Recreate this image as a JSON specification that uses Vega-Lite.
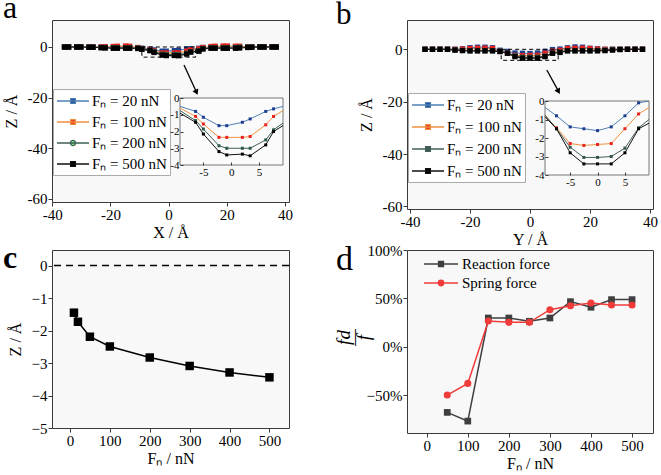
{
"$schema": "https://vega.github.io/schema/vega-lite/v6.json",
"autosize": "none",
"padding": {"left": 52, "top": 20, "right": 609, "bottom": 455},
"background": "white",
"datasets": {
"a": [
{"s":"Fₙ = 20 nN","x":-35.8,"z":0},{"s":"Fₙ = 20 nN","x":-34.4,"z":0},{"s":"Fₙ = 20 nN","x":-31.6,"z":0},{"s":"Fₙ = 20 nN","x":-30.2,"z":0},{"s":"Fₙ = 20 nN","x":-27.4,"z":0},{"s":"Fₙ = 20 nN","x":-26.0,"z":0},{"s":"Fₙ = 20 nN","x":-23.2,"z":0},{"s":"Fₙ = 20 nN","x":-21.8,"z":0},{"s":"Fₙ = 20 nN","x":-19.0,"z":-0.1},{"s":"Fₙ = 20 nN","x":-17.6,"z":-0.1},{"s":"Fₙ = 20 nN","x":-14.8,"z":-0.1},{"s":"Fₙ = 20 nN","x":-13.4,"z":-0.2},{"s":"Fₙ = 20 nN","x":-10.6,"z":-0.3},{"s":"Fₙ = 20 nN","x":-9.2,"z":-0.5},{"s":"Fₙ = 20 nN","x":-6.4,"z":-0.8},{"s":"Fₙ = 20 nN","x":-5.0,"z":-1.15},{"s":"Fₙ = 20 nN","x":-2.2,"z":-1.65},{"s":"Fₙ = 20 nN","x":-0.8,"z":-1.65},{"s":"Fₙ = 20 nN","x":2.0,"z":-1.45},{"s":"Fₙ = 20 nN","x":3.4,"z":-1.25},{"s":"Fₙ = 20 nN","x":6.2,"z":-0.8},{"s":"Fₙ = 20 nN","x":7.6,"z":-0.65},{"s":"Fₙ = 20 nN","x":10.4,"z":-0.5},{"s":"Fₙ = 20 nN","x":11.8,"z":-0.2},{"s":"Fₙ = 20 nN","x":14.6,"z":-0.1},{"s":"Fₙ = 20 nN","x":16.0,"z":0},{"s":"Fₙ = 20 nN","x":18.8,"z":0},{"s":"Fₙ = 20 nN","x":20.2,"z":0},{"s":"Fₙ = 20 nN","x":23.0,"z":0},{"s":"Fₙ = 20 nN","x":24.4,"z":0},{"s":"Fₙ = 20 nN","x":27.2,"z":0},{"s":"Fₙ = 20 nN","x":28.6,"z":0},{"s":"Fₙ = 20 nN","x":31.4,"z":0},{"s":"Fₙ = 20 nN","x":32.8,"z":0},{"s":"Fₙ = 20 nN","x":35.6,"z":0},{"s":"Fₙ = 20 nN","x":37.0,"z":0},
{"s":"Fₙ = 100 nN","x":-35.8,"z":0},{"s":"Fₙ = 100 nN","x":-34.4,"z":0},{"s":"Fₙ = 100 nN","x":-31.6,"z":0},{"s":"Fₙ = 100 nN","x":-30.2,"z":0},{"s":"Fₙ = 100 nN","x":-27.4,"z":0},{"s":"Fₙ = 100 nN","x":-26.0,"z":0},{"s":"Fₙ = 100 nN","x":-23.2,"z":0},{"s":"Fₙ = 100 nN","x":-21.8,"z":0.1},{"s":"Fₙ = 100 nN","x":-19.0,"z":0.2},{"s":"Fₙ = 100 nN","x":-17.6,"z":0.3},{"s":"Fₙ = 100 nN","x":-14.8,"z":0.4},{"s":"Fₙ = 100 nN","x":-13.4,"z":0.3},{"s":"Fₙ = 100 nN","x":-10.6,"z":-0.2},{"s":"Fₙ = 100 nN","x":-9.2,"z":-0.6},{"s":"Fₙ = 100 nN","x":-6.4,"z":-1.1},{"s":"Fₙ = 100 nN","x":-5.0,"z":-1.55},{"s":"Fₙ = 100 nN","x":-2.2,"z":-2.35},{"s":"Fₙ = 100 nN","x":-0.8,"z":-2.35},{"s":"Fₙ = 100 nN","x":2.0,"z":-2.35},{"s":"Fₙ = 100 nN","x":3.4,"z":-2.3},{"s":"Fₙ = 100 nN","x":6.2,"z":-1.6},{"s":"Fₙ = 100 nN","x":7.6,"z":-1.1},{"s":"Fₙ = 100 nN","x":10.4,"z":-0.75},{"s":"Fₙ = 100 nN","x":11.8,"z":-0.2},{"s":"Fₙ = 100 nN","x":14.6,"z":0.2},{"s":"Fₙ = 100 nN","x":16.0,"z":0.3},{"s":"Fₙ = 100 nN","x":18.8,"z":0.4},{"s":"Fₙ = 100 nN","x":20.2,"z":0.4},{"s":"Fₙ = 100 nN","x":23.0,"z":0.3},{"s":"Fₙ = 100 nN","x":24.4,"z":0.3},{"s":"Fₙ = 100 nN","x":27.2,"z":0.1},{"s":"Fₙ = 100 nN","x":28.6,"z":0},{"s":"Fₙ = 100 nN","x":31.4,"z":0},{"s":"Fₙ = 100 nN","x":32.8,"z":0},{"s":"Fₙ = 100 nN","x":35.6,"z":0},{"s":"Fₙ = 100 nN","x":37.0,"z":0},
{"s":"Fₙ = 200 nN","x":-35.8,"z":0},{"s":"Fₙ = 200 nN","x":-34.4,"z":0},{"s":"Fₙ = 200 nN","x":-31.6,"z":0},{"s":"Fₙ = 200 nN","x":-30.2,"z":0},{"s":"Fₙ = 200 nN","x":-27.4,"z":-0.1},{"s":"Fₙ = 200 nN","x":-26.0,"z":-0.1},{"s":"Fₙ = 200 nN","x":-23.2,"z":-0.2},{"s":"Fₙ = 200 nN","x":-21.8,"z":-0.2},{"s":"Fₙ = 200 nN","x":-19.0,"z":-0.3},{"s":"Fₙ = 200 nN","x":-17.6,"z":-0.3},{"s":"Fₙ = 200 nN","x":-14.8,"z":-0.3},{"s":"Fₙ = 200 nN","x":-13.4,"z":-0.3},{"s":"Fₙ = 200 nN","x":-10.6,"z":-0.4},{"s":"Fₙ = 200 nN","x":-9.2,"z":-0.75},{"s":"Fₙ = 200 nN","x":-6.4,"z":-1.35},{"s":"Fₙ = 200 nN","x":-5.0,"z":-1.85},{"s":"Fₙ = 200 nN","x":-2.2,"z":-2.85},{"s":"Fₙ = 200 nN","x":-0.8,"z":-3.0},{"s":"Fₙ = 200 nN","x":2.0,"z":-3.0},{"s":"Fₙ = 200 nN","x":3.4,"z":-3.0},{"s":"Fₙ = 200 nN","x":6.2,"z":-2.5},{"s":"Fₙ = 200 nN","x":7.6,"z":-1.9},{"s":"Fₙ = 200 nN","x":10.4,"z":-1.5},{"s":"Fₙ = 200 nN","x":11.8,"z":-0.6},{"s":"Fₙ = 200 nN","x":14.6,"z":-0.3},{"s":"Fₙ = 200 nN","x":16.0,"z":-0.3},{"s":"Fₙ = 200 nN","x":18.8,"z":-0.3},{"s":"Fₙ = 200 nN","x":20.2,"z":-0.3},{"s":"Fₙ = 200 nN","x":23.0,"z":-0.2},{"s":"Fₙ = 200 nN","x":24.4,"z":-0.1},{"s":"Fₙ = 200 nN","x":27.2,"z":0},{"s":"Fₙ = 200 nN","x":28.6,"z":0},{"s":"Fₙ = 200 nN","x":31.4,"z":0},{"s":"Fₙ = 200 nN","x":32.8,"z":0},{"s":"Fₙ = 200 nN","x":35.6,"z":0},{"s":"Fₙ = 200 nN","x":37.0,"z":0},
{"s":"Fₙ = 500 nN","x":-35.8,"z":0},{"s":"Fₙ = 500 nN","x":-34.4,"z":0},{"s":"Fₙ = 500 nN","x":-31.6,"z":0},{"s":"Fₙ = 500 nN","x":-30.2,"z":0},{"s":"Fₙ = 500 nN","x":-27.4,"z":-0.1},{"s":"Fₙ = 500 nN","x":-26.0,"z":-0.1},{"s":"Fₙ = 500 nN","x":-23.2,"z":-0.3},{"s":"Fₙ = 500 nN","x":-21.8,"z":-0.4},{"s":"Fₙ = 500 nN","x":-19.0,"z":-0.5},{"s":"Fₙ = 500 nN","x":-17.6,"z":-0.5},{"s":"Fₙ = 500 nN","x":-14.8,"z":-0.5},{"s":"Fₙ = 500 nN","x":-13.4,"z":-0.5},{"s":"Fₙ = 500 nN","x":-10.6,"z":-0.6},{"s":"Fₙ = 500 nN","x":-9.2,"z":-0.9},{"s":"Fₙ = 500 nN","x":-6.4,"z":-1.45},{"s":"Fₙ = 500 nN","x":-5.0,"z":-2.15},{"s":"Fₙ = 500 nN","x":-2.2,"z":-3.2},{"s":"Fₙ = 500 nN","x":-0.8,"z":-3.4},{"s":"Fₙ = 500 nN","x":2.0,"z":-3.35},{"s":"Fₙ = 500 nN","x":3.4,"z":-3.45},{"s":"Fₙ = 500 nN","x":6.2,"z":-2.8},{"s":"Fₙ = 500 nN","x":7.6,"z":-2.0},{"s":"Fₙ = 500 nN","x":10.4,"z":-1.65},{"s":"Fₙ = 500 nN","x":11.8,"z":-0.8},{"s":"Fₙ = 500 nN","x":14.6,"z":-0.5},{"s":"Fₙ = 500 nN","x":16.0,"z":-0.5},{"s":"Fₙ = 500 nN","x":18.8,"z":-0.5},{"s":"Fₙ = 500 nN","x":20.2,"z":-0.5},{"s":"Fₙ = 500 nN","x":23.0,"z":-0.5},{"s":"Fₙ = 500 nN","x":24.4,"z":-0.4},{"s":"Fₙ = 500 nN","x":27.2,"z":-0.2},{"s":"Fₙ = 500 nN","x":28.6,"z":-0.1},{"s":"Fₙ = 500 nN","x":31.4,"z":0},{"s":"Fₙ = 500 nN","x":32.8,"z":0},{"s":"Fₙ = 500 nN","x":35.6,"z":0},{"s":"Fₙ = 500 nN","x":37.0,"z":0}
],
"b": [
{"s":"Fₙ = 20 nN","x":-35,"z":0},{"s":"Fₙ = 20 nN","x":-32.5,"z":0},{"s":"Fₙ = 20 nN","x":-30,"z":0},{"s":"Fₙ = 20 nN","x":-27.5,"z":0},{"s":"Fₙ = 20 nN","x":-25,"z":0},{"s":"Fₙ = 20 nN","x":-22.5,"z":0.2},{"s":"Fₙ = 20 nN","x":-20,"z":0.6},{"s":"Fₙ = 20 nN","x":-17.5,"z":0.8},{"s":"Fₙ = 20 nN","x":-15,"z":0.8},{"s":"Fₙ = 20 nN","x":-12.5,"z":0.6},{"s":"Fₙ = 20 nN","x":-10,"z":-0.35},{"s":"Fₙ = 20 nN","x":-7.5,"z":-0.8},{"s":"Fₙ = 20 nN","x":-5,"z":-1.4},{"s":"Fₙ = 20 nN","x":-2.5,"z":-1.5},{"s":"Fₙ = 20 nN","x":0,"z":-1.6},{"s":"Fₙ = 20 nN","x":2.5,"z":-1.4},{"s":"Fₙ = 20 nN","x":5,"z":-0.8},{"s":"Fₙ = 20 nN","x":7.5,"z":-0.1},{"s":"Fₙ = 20 nN","x":10,"z":0.1},{"s":"Fₙ = 20 nN","x":12.5,"z":0.6},{"s":"Fₙ = 20 nN","x":15,"z":0.9},{"s":"Fₙ = 20 nN","x":17.5,"z":0.8},{"s":"Fₙ = 20 nN","x":20,"z":0.4},{"s":"Fₙ = 20 nN","x":22.5,"z":0.2},{"s":"Fₙ = 20 nN","x":25,"z":0},{"s":"Fₙ = 20 nN","x":27.5,"z":0},{"s":"Fₙ = 20 nN","x":30,"z":0},{"s":"Fₙ = 20 nN","x":32.5,"z":0},{"s":"Fₙ = 20 nN","x":35,"z":0},{"s":"Fₙ = 20 nN","x":37.5,"z":0},
{"s":"Fₙ = 100 nN","x":-35,"z":0},{"s":"Fₙ = 100 nN","x":-32.5,"z":0},{"s":"Fₙ = 100 nN","x":-30,"z":0},{"s":"Fₙ = 100 nN","x":-27.5,"z":0},{"s":"Fₙ = 100 nN","x":-25,"z":0},{"s":"Fₙ = 100 nN","x":-22.5,"z":0.1},{"s":"Fₙ = 100 nN","x":-20,"z":0.3},{"s":"Fₙ = 100 nN","x":-17.5,"z":0.4},{"s":"Fₙ = 100 nN","x":-15,"z":0.4},{"s":"Fₙ = 100 nN","x":-12.5,"z":0.3},{"s":"Fₙ = 100 nN","x":-10,"z":-0.8},{"s":"Fₙ = 100 nN","x":-7.5,"z":-1.45},{"s":"Fₙ = 100 nN","x":-5,"z":-2.3},{"s":"Fₙ = 100 nN","x":-2.5,"z":-2.4},{"s":"Fₙ = 100 nN","x":0,"z":-2.35},{"s":"Fₙ = 100 nN","x":2.5,"z":-2.3},{"s":"Fₙ = 100 nN","x":5,"z":-1.5},{"s":"Fₙ = 100 nN","x":7.5,"z":-0.7},{"s":"Fₙ = 100 nN","x":10,"z":-0.35},{"s":"Fₙ = 100 nN","x":12.5,"z":0.3},{"s":"Fₙ = 100 nN","x":15,"z":0.4},{"s":"Fₙ = 100 nN","x":17.5,"z":0.4},{"s":"Fₙ = 100 nN","x":20,"z":0.3},{"s":"Fₙ = 100 nN","x":22.5,"z":0.1},{"s":"Fₙ = 100 nN","x":25,"z":0},{"s":"Fₙ = 100 nN","x":27.5,"z":0},{"s":"Fₙ = 100 nN","x":30,"z":0},{"s":"Fₙ = 100 nN","x":32.5,"z":0},{"s":"Fₙ = 100 nN","x":35,"z":0},{"s":"Fₙ = 100 nN","x":37.5,"z":0},
{"s":"Fₙ = 200 nN","x":-35,"z":0},{"s":"Fₙ = 200 nN","x":-32.5,"z":0},{"s":"Fₙ = 200 nN","x":-30,"z":0},{"s":"Fₙ = 200 nN","x":-27.5,"z":0},{"s":"Fₙ = 200 nN","x":-25,"z":-0.2},{"s":"Fₙ = 200 nN","x":-22.5,"z":-0.4},{"s":"Fₙ = 200 nN","x":-20,"z":-0.5},{"s":"Fₙ = 200 nN","x":-17.5,"z":-0.5},{"s":"Fₙ = 200 nN","x":-15,"z":-0.5},{"s":"Fₙ = 200 nN","x":-12.5,"z":-0.5},{"s":"Fₙ = 200 nN","x":-10,"z":-0.75},{"s":"Fₙ = 200 nN","x":-7.5,"z":-1.5},{"s":"Fₙ = 200 nN","x":-5,"z":-2.5},{"s":"Fₙ = 200 nN","x":-2.5,"z":-3.05},{"s":"Fₙ = 200 nN","x":0,"z":-3.05},{"s":"Fₙ = 200 nN","x":2.5,"z":-3.0},{"s":"Fₙ = 200 nN","x":5,"z":-2.55},{"s":"Fₙ = 200 nN","x":7.5,"z":-1.45},{"s":"Fₙ = 200 nN","x":10,"z":-1.0},{"s":"Fₙ = 200 nN","x":12.5,"z":-0.5},{"s":"Fₙ = 200 nN","x":15,"z":-0.5},{"s":"Fₙ = 200 nN","x":17.5,"z":-0.5},{"s":"Fₙ = 200 nN","x":20,"z":-0.5},{"s":"Fₙ = 200 nN","x":22.5,"z":-0.4},{"s":"Fₙ = 200 nN","x":25,"z":-0.3},{"s":"Fₙ = 200 nN","x":27.5,"z":-0.1},{"s":"Fₙ = 200 nN","x":30,"z":0},{"s":"Fₙ = 200 nN","x":32.5,"z":0},{"s":"Fₙ = 200 nN","x":35,"z":0},{"s":"Fₙ = 200 nN","x":37.5,"z":0},
{"s":"Fₙ = 500 nN","x":-35,"z":0},{"s":"Fₙ = 500 nN","x":-32.5,"z":0},{"s":"Fₙ = 500 nN","x":-30,"z":0},{"s":"Fₙ = 500 nN","x":-27.5,"z":0},{"s":"Fₙ = 500 nN","x":-25,"z":-0.3},{"s":"Fₙ = 500 nN","x":-22.5,"z":-0.5},{"s":"Fₙ = 500 nN","x":-20,"z":-0.6},{"s":"Fₙ = 500 nN","x":-17.5,"z":-0.6},{"s":"Fₙ = 500 nN","x":-15,"z":-0.6},{"s":"Fₙ = 500 nN","x":-12.5,"z":-0.6},{"s":"Fₙ = 500 nN","x":-10,"z":-0.85},{"s":"Fₙ = 500 nN","x":-7.5,"z":-1.5},{"s":"Fₙ = 500 nN","x":-5,"z":-2.8},{"s":"Fₙ = 500 nN","x":-2.5,"z":-3.4},{"s":"Fₙ = 500 nN","x":0,"z":-3.4},{"s":"Fₙ = 500 nN","x":2.5,"z":-3.4},{"s":"Fₙ = 500 nN","x":5,"z":-2.8},{"s":"Fₙ = 500 nN","x":7.5,"z":-1.5},{"s":"Fₙ = 500 nN","x":10,"z":-1.2},{"s":"Fₙ = 500 nN","x":12.5,"z":-0.6},{"s":"Fₙ = 500 nN","x":15,"z":-0.6},{"s":"Fₙ = 500 nN","x":17.5,"z":-0.6},{"s":"Fₙ = 500 nN","x":20,"z":-0.6},{"s":"Fₙ = 500 nN","x":22.5,"z":-0.6},{"s":"Fₙ = 500 nN","x":25,"z":-0.5},{"s":"Fₙ = 500 nN","x":27.5,"z":-0.3},{"s":"Fₙ = 500 nN","x":30,"z":-0.1},{"s":"Fₙ = 500 nN","x":32.5,"z":0},{"s":"Fₙ = 500 nN","x":35,"z":0},{"s":"Fₙ = 500 nN","x":37.5,"z":0}
],
"c": [
{"f":10,"z":-1.45},{"f":20,"z":-1.73},{"f":50,"z":-2.19},{"f":100,"z":-2.49},{"f":200,"z":-2.83},{"f":300,"z":-3.09},{"f":400,"z":-3.29},{"f":500,"z":-3.44}
],
"d": [
{"k":"Reaction force","f":50,"r":-0.679},{"k":"Reaction force","f":100,"r":-0.769},{"k":"Reaction force","f":150,"r":0.297},{"k":"Reaction force","f":200,"r":0.297},{"k":"Reaction force","f":250,"r":0.263},{"k":"Reaction force","f":300,"r":0.297},{"k":"Reaction force","f":350,"r":0.466},{"k":"Reaction force","f":400,"r":0.408},{"k":"Reaction force","f":450,"r":0.487},{"k":"Reaction force","f":500,"r":0.487},
{"k":"Spring force","f":50,"r":-0.5},{"k":"Spring force","f":100,"r":-0.379},{"k":"Spring force","f":150,"r":0.266},{"k":"Spring force","f":200,"r":0.252},{"k":"Spring force","f":250,"r":0.252},{"k":"Spring force","f":300,"r":0.383},{"k":"Spring force","f":350,"r":0.424},{"k":"Spring force","f":400,"r":0.452},{"k":"Spring force","f":450,"r":0.432},{"k":"Spring force","f":500,"r":0.432}
]
},
"config": {
"font": "Liberation Serif",
"view": {"stroke": "#3a3a3a", "strokeWidth": 1, "fill": "#f8f8f8"},
"axis": {"domain": false, "grid": false, "labelFont": "Liberation Serif", "labelFontSize": 15, "labelColor": "black", "titleFont": "Liberation Serif", "titleFontSize": 16, "titleFontWeight": "normal", "titleColor": "black", "tickColor": "#3a3a3a", "tickSize": 4, "tickWidth": 1, "labelPadding": 1, "labelFlush": false, "labelOverlap": false},
"legend": {"labelFont": "Liberation Serif", "labelFontSize": 15, "labelColor": "black"},
"title": {"font": "Liberation Serif", "fontSize": 32, "fontWeight": "normal", "anchor": "start", "frame": "group", "baseline": "alphabetic", "color": "black"}
},
"bounds": "flush",
"columns": 2,
"spacing": {"row": 41, "column": 118},
"resolve": {"scale": {"fill": "independent", "stroke": "independent", "color": "independent", "shape": "independent"}, "legend": {"fill": "independent", "stroke": "independent", "color": "independent", "shape": "independent"}},
"concat": [
{
"width": 237, "height": 182,
"title": {"text": "a", "dx": -49, "offset": -5},
"layer": [
{"data": {"name": "a"}, "mark": {"type": "line", "strokeWidth": 1.2},
 "encoding": {
  "x": {"field": "x", "type": "quantitative", "scale": {"domain": [-40.1, 41.4], "nice": false, "zero": false}, "axis": {"orient": "bottom", "values": [-40, -20, 0, 20, 40], "labelExpr": "replace(datum.label,'−','-')", "title": "X / Å", "titlePadding": 2}},
  "y": {"field": "z", "type": "quantitative", "scale": {"domain": [-61.2, 10.66], "nice": false, "zero": false}, "axis": {"orient": "left", "values": [0, -20, -40, -60], "labelExpr": "replace(datum.label,'−','-')", "title": "Z / Å", "titlePadding": 8}},
  "color": {"field": "s", "type": "nominal", "scale": {"domain": ["Fₙ = 20 nN","Fₙ = 100 nN","Fₙ = 200 nN","Fₙ = 500 nN"], "range": ["#4f81b5","#f0903f","#3d5f57","#111111"]},
   "legend": {"orient": "none", "legendX": 1, "legendY": 69, "title": null, "symbolSize": 256, "symbolStrokeWidth": 1.3, "fillColor": "white", "strokeColor": "#aaaaaa", "padding": 3, "rowPadding": 4, "labelOffset": 18,
    "encode": {"symbols": {"update": {
      "shape": {"signal": "datum.value === 'Fₙ = 200 nN' ? 'M-1,0H3M1.33,0A0.33,0.33,0,1,1,0.67,0A0.33,0.33,0,1,1,1.33,0Z' : 'M-1,0H3M0.7,-0.3H1.3V0.3H0.7Z'"},
      "fill": {"signal": "datum.value === 'Fₙ = 20 nN' ? '#1d3f8f' : datum.value === 'Fₙ = 100 nN' ? '#e8231d' : datum.value === 'Fₙ = 200 nN' ? '#86f086' : '#000000'"},
      "stroke": {"signal": "datum.value === 'Fₙ = 20 nN' ? '#4f81b5' : datum.value === 'Fₙ = 100 nN' ? '#f0903f' : datum.value === 'Fₙ = 200 nN' ? '#3d5f57' : '#111111'"},
      "opacity": {"value": 1}}}}}}
 }},
{"data": {"name": "a"}, "mark": {"type": "point", "shape": "square", "filled": true, "size": 28, "opacity": 1, "strokeWidth": 0},
 "encoding": {
  "x": {"field": "x", "type": "quantitative", "scale": {"domain": [-40.1, 41.4], "nice": false, "zero": false}, "axis": null},
  "y": {"field": "z", "type": "quantitative", "scale": {"domain": [-61.2, 10.66], "nice": false, "zero": false}, "axis": null},
  "fill": {"field": "s", "type": "nominal", "scale": {"domain": ["Fₙ = 500 nN","Fₙ = 200 nN","Fₙ = 100 nN","Fₙ = 20 nN"], "range": ["#000000","#2b5a4a","#e8231d","#1d3f8f"]}, "legend": null}
 }},
{"data": {"values": [{}]}, "mark": {"type": "rect", "fill": "transparent", "stroke": "black", "strokeWidth": 1, "strokeDash": [4, 3]},
 "encoding": {
  "x": {"datum": -9.2, "type": "quantitative", "scale": {"domain": [-40.1, 41.4], "nice": false, "zero": false}, "axis": null},
  "x2": {"datum": 9.3},
  "y": {"datum": 0, "type": "quantitative", "scale": {"domain": [-61.2, 10.66], "nice": false, "zero": false}, "axis": null},
  "y2": {"datum": -4}}},
{"data": {"values": [{}]}, "mark": {"type": "rule", "stroke": "black", "strokeWidth": 1.3},
 "encoding": {
  "x": {"datum": 5.3, "type": "quantitative", "scale": {"domain": [-40.1, 41.4], "nice": false, "zero": false}, "axis": null},
  "x2": {"datum": 9.4},
  "y": {"datum": -7.1, "type": "quantitative", "scale": {"domain": [-61.2, 10.66], "nice": false, "zero": false}, "axis": null},
  "y2": {"datum": -17.4}}},
{"data": {"values": [{}]}, "mark": {"type": "point", "shape": "triangle-up", "filled": true, "fill": "black", "size": 40, "angle": 155, "opacity": 1},
 "encoding": {
  "x": {"datum": 9.6, "type": "quantitative", "scale": {"domain": [-40.1, 41.4], "nice": false, "zero": false}, "axis": null},
  "y": {"datum": -17.9, "type": "quantitative", "scale": {"domain": [-61.2, 10.66], "nice": false, "zero": false}, "axis": null}}},
{"data": {"values": [{}]}, "mark": {"type": "rect", "fill": "#fbfbfb", "stroke": "#777777", "strokeWidth": 1},
 "encoding": {
  "x": {"datum": -9.2, "type": "quantitative", "scale": {"domain": [-9.2, 9.3], "range": [128, 231], "clamp": true, "nice": false, "zero": false}, "axis": null},
  "x2": {"datum": 9.3},
  "y": {"datum": -4, "type": "quantitative", "scale": {"domain": [-4, 0], "range": [145, 78], "clamp": true, "nice": false, "zero": false}, "axis": null},
  "y2": {"datum": 0}}},
{"data": {"name": "a"}, "transform": [{"filter": "datum.x >= -9.2 && datum.x <= 10.4"}], "mark": {"type": "line", "strokeWidth": 1},
 "encoding": {
  "x": {"field": "x", "type": "quantitative", "scale": {"domain": [-9.2, 9.3], "range": [128, 231], "clamp": true, "nice": false, "zero": false}, "axis": {"orient": "bottom", "offset": -37, "values": [-5, 0, 5], "labelExpr": "replace(datum.label,'−','-')", "labelFontSize": 11, "tickSize": -3, "labelPadding": 4, "title": null, "zindex": 2}},
  "y": {"field": "z", "type": "quantitative", "scale": {"domain": [-4, 0], "range": [145, 78], "clamp": true, "nice": false, "zero": false}, "axis": {"orient": "left", "offset": -128, "values": [0, -1, -2, -3, -4], "labelExpr": "replace(datum.label,'−','-')", "labelFontSize": 11, "tickSize": -3, "labelPadding": 4, "title": null, "zindex": 2}},
  "color": {"field": "s", "type": "nominal", "scale": {"domain": ["Fₙ = 20 nN","Fₙ = 100 nN","Fₙ = 200 nN","Fₙ = 500 nN"], "range": ["#4f81b5","#f0903f","#3d5f57","#111111"]},
   "legend": {"orient": "none", "legendX": 1, "legendY": 69, "title": null, "symbolSize": 256, "symbolStrokeWidth": 1.3, "fillColor": "white", "strokeColor": "#aaaaaa", "padding": 3, "rowPadding": 4, "labelOffset": 18,
    "encode": {"symbols": {"update": {
      "shape": {"signal": "datum.value === 'Fₙ = 200 nN' ? 'M-1,0H3M1.33,0A0.33,0.33,0,1,1,0.67,0A0.33,0.33,0,1,1,1.33,0Z' : 'M-1,0H3M0.7,-0.3H1.3V0.3H0.7Z'"},
      "fill": {"signal": "datum.value === 'Fₙ = 20 nN' ? '#1d3f8f' : datum.value === 'Fₙ = 100 nN' ? '#e8231d' : datum.value === 'Fₙ = 200 nN' ? '#86f086' : '#000000'"},
      "stroke": {"signal": "datum.value === 'Fₙ = 20 nN' ? '#4f81b5' : datum.value === 'Fₙ = 100 nN' ? '#f0903f' : datum.value === 'Fₙ = 200 nN' ? '#3d5f57' : '#111111'"},
      "opacity": {"value": 1}}}}}}
 }},
{"data": {"name": "a"}, "transform": [{"filter": "datum.x > -9 && datum.x < 9"}], "mark": {"type": "point", "shape": "square", "filled": true, "size": 9, "opacity": 1, "strokeWidth": 0},
 "encoding": {
  "x": {"field": "x", "type": "quantitative", "scale": {"domain": [-9.2, 9.3], "range": [128, 231], "clamp": true, "nice": false, "zero": false}, "axis": null},
  "y": {"field": "z", "type": "quantitative", "scale": {"domain": [-4, 0], "range": [145, 78], "clamp": true, "nice": false, "zero": false}, "axis": null},
  "fill": {"field": "s", "type": "nominal", "scale": {"domain": ["Fₙ = 500 nN","Fₙ = 200 nN","Fₙ = 100 nN","Fₙ = 20 nN"], "range": ["#000000","#2b5a4a","#e8231d","#1d3f8f"]}, "legend": null}
 }}
],
"resolve": {"scale": {"x": "independent", "y": "independent"}, "axis": {"x": "independent", "y": "independent"}}
},
{
"width": 246, "height": 189,
"title": {"text": "b", "dx": -71, "offset": -11, "fontSize": 31},
"layer": [
{"data": {"name": "b"}, "mark": {"type": "line", "strokeWidth": 1.2},
 "encoding": {
  "x": {"field": "x", "type": "quantitative", "scale": {"domain": [-41, 41], "nice": false, "zero": false}, "axis": {"orient": "bottom", "values": [-40, -20, 0, 20, 40], "labelExpr": "replace(datum.label,'−','-')", "title": "Y / Å", "titlePadding": 2}},
  "y": {"field": "z", "type": "quantitative", "scale": {"domain": [-61, 11.2], "nice": false, "zero": false}, "axis": {"orient": "left", "values": [0, -20, -40, -60], "labelExpr": "replace(datum.label,'−','-')", "title": "Z / Å", "titlePadding": 8}},
  "color": {"field": "s", "type": "nominal", "scale": {"domain": ["Fₙ = 20 nN","Fₙ = 100 nN","Fₙ = 200 nN","Fₙ = 500 nN"], "range": ["#4f81b5","#f0903f","#44605a","#111111"]},
   "legend": {"orient": "none", "legendX": 1, "legendY": 73, "title": null, "symbolSize": 256, "symbolStrokeWidth": 1.3, "fillColor": "white", "strokeColor": "#aaaaaa", "padding": 3, "rowPadding": 5, "labelOffset": 18,
    "encode": {"symbols": {"update": {
      "shape": {"value": "M-1,0H3M0.7,-0.3H1.3V0.3H0.7Z"},
      "fill": {"signal": "datum.value === 'Fₙ = 20 nN' ? '#1d3f8f' : datum.value === 'Fₙ = 100 nN' ? '#e8231d' : datum.value === 'Fₙ = 200 nN' ? '#35554d' : '#000000'"},
      "stroke": {"signal": "datum.value === 'Fₙ = 20 nN' ? '#4f81b5' : datum.value === 'Fₙ = 100 nN' ? '#f0903f' : datum.value === 'Fₙ = 200 nN' ? '#44605a' : '#111111'"},
      "opacity": {"value": 1}}}}}}
 }},
{"data": {"name": "b"}, "mark": {"type": "point", "shape": "square", "filled": true, "size": 28, "opacity": 1, "strokeWidth": 0},
 "encoding": {
  "x": {"field": "x", "type": "quantitative", "scale": {"domain": [-41, 41], "nice": false, "zero": false}, "axis": null},
  "y": {"field": "z", "type": "quantitative", "scale": {"domain": [-61, 11.2], "nice": false, "zero": false}, "axis": null},
  "fill": {"field": "s", "type": "nominal", "scale": {"domain": ["Fₙ = 500 nN","Fₙ = 200 nN","Fₙ = 100 nN","Fₙ = 20 nN"], "range": ["#000000","#35554d","#e8231d","#1d3f8f"]}, "legend": null}
 }},
{"data": {"values": [{}]}, "mark": {"type": "rect", "fill": "transparent", "stroke": "black", "strokeWidth": 1, "strokeDash": [4, 3]},
 "encoding": {
  "x": {"datum": -9.6, "type": "quantitative", "scale": {"domain": [-41, 41], "nice": false, "zero": false}, "axis": null},
  "x2": {"datum": 9.4},
  "y": {"datum": 0, "type": "quantitative", "scale": {"domain": [-61, 11.2], "nice": false, "zero": false}, "axis": null},
  "y2": {"datum": -4.2}}},
{"data": {"values": [{}]}, "mark": {"type": "rule", "stroke": "black", "strokeWidth": 1.3},
 "encoding": {
  "x": {"datum": 5.6, "type": "quantitative", "scale": {"domain": [-41, 41], "nice": false, "zero": false}, "axis": null},
  "x2": {"datum": 9.3},
  "y": {"datum": -7.9, "type": "quantitative", "scale": {"domain": [-61, 11.2], "nice": false, "zero": false}, "axis": null},
  "y2": {"datum": -15.6}}},
{"data": {"values": [{}]}, "mark": {"type": "point", "shape": "triangle-up", "filled": true, "fill": "black", "size": 40, "angle": 152, "opacity": 1},
 "encoding": {
  "x": {"datum": 9.5, "type": "quantitative", "scale": {"domain": [-41, 41], "nice": false, "zero": false}, "axis": null},
  "y": {"datum": -16.1, "type": "quantitative", "scale": {"domain": [-61, 11.2], "nice": false, "zero": false}, "axis": null}}},
{"data": {"values": [{}]}, "mark": {"type": "rect", "fill": "#fbfbfb", "stroke": "#777777", "strokeWidth": 1},
 "encoding": {
  "x": {"datum": -9.6, "type": "quantitative", "scale": {"domain": [-9.6, 9.4], "range": [138, 242], "clamp": true, "nice": false, "zero": false}, "axis": null},
  "x2": {"datum": 9.4},
  "y": {"datum": -4, "type": "quantitative", "scale": {"domain": [-4, 0], "range": [155, 81], "clamp": true, "nice": false, "zero": false}, "axis": null},
  "y2": {"datum": 0}}},
{"data": {"name": "b"}, "transform": [{"filter": "datum.x >= -10 && datum.x <= 10"}], "mark": {"type": "line", "strokeWidth": 1},
 "encoding": {
  "x": {"field": "x", "type": "quantitative", "scale": {"domain": [-9.6, 9.4], "range": [138, 242], "clamp": true, "nice": false, "zero": false}, "axis": {"orient": "bottom", "offset": -34, "values": [-5, 0, 5], "labelExpr": "replace(datum.label,'−','-')", "labelFontSize": 11, "tickSize": -3, "labelPadding": 4, "title": null, "zindex": 2}},
  "y": {"field": "z", "type": "quantitative", "scale": {"domain": [-4, 0], "range": [155, 81], "clamp": true, "nice": false, "zero": false}, "axis": {"orient": "left", "offset": -138, "values": [0, -1, -2, -3, -4], "labelExpr": "replace(datum.label,'−','-')", "labelFontSize": 11, "tickSize": -3, "labelPadding": 4, "title": null, "zindex": 2}},
  "color": {"field": "s", "type": "nominal", "scale": {"domain": ["Fₙ = 20 nN","Fₙ = 100 nN","Fₙ = 200 nN","Fₙ = 500 nN"], "range": ["#4f81b5","#f0903f","#44605a","#111111"]},
   "legend": {"orient": "none", "legendX": 1, "legendY": 73, "title": null, "symbolSize": 256, "symbolStrokeWidth": 1.3, "fillColor": "white", "strokeColor": "#aaaaaa", "padding": 3, "rowPadding": 5, "labelOffset": 18,
    "encode": {"symbols": {"update": {
      "shape": {"value": "M-1,0H3M0.7,-0.3H1.3V0.3H0.7Z"},
      "fill": {"signal": "datum.value === 'Fₙ = 20 nN' ? '#1d3f8f' : datum.value === 'Fₙ = 100 nN' ? '#e8231d' : datum.value === 'Fₙ = 200 nN' ? '#35554d' : '#000000'"},
      "stroke": {"signal": "datum.value === 'Fₙ = 20 nN' ? '#4f81b5' : datum.value === 'Fₙ = 100 nN' ? '#f0903f' : datum.value === 'Fₙ = 200 nN' ? '#44605a' : '#111111'"},
      "opacity": {"value": 1}}}}}}
 }},
{"data": {"name": "b"}, "transform": [{"filter": "datum.x > -9.5 && datum.x < 9.5"}], "mark": {"type": "point", "shape": "square", "filled": true, "size": 9, "opacity": 1, "strokeWidth": 0},
 "encoding": {
  "x": {"field": "x", "type": "quantitative", "scale": {"domain": [-9.6, 9.4], "range": [138, 242], "clamp": true, "nice": false, "zero": false}, "axis": null},
  "y": {"field": "z", "type": "quantitative", "scale": {"domain": [-4, 0], "range": [155, 81], "clamp": true, "nice": false, "zero": false}, "axis": null},
  "fill": {"field": "s", "type": "nominal", "scale": {"domain": ["Fₙ = 500 nN","Fₙ = 200 nN","Fₙ = 100 nN","Fₙ = 20 nN"], "range": ["#000000","#35554d","#e8231d","#1d3f8f"]}, "legend": null}
 }}
],
"resolve": {"scale": {"x": "independent", "y": "independent"}, "axis": {"x": "independent", "y": "independent"}}
},
{
"width": 237, "height": 178,
"title": {"text": "c", "dx": -49, "offset": -25, "fontWeight": "bold"},
"layer": [
{"data": {"name": "c"}, "mark": {"type": "line", "color": "black", "strokeWidth": 1.5},
 "encoding": {
  "x": {"field": "f", "type": "quantitative", "scale": {"domain": [-45, 549], "nice": false, "zero": false}, "axis": {"values": [0, 100, 200, 300, 400, 500], "title": "Fₙ / nN", "titlePadding": 2}},
  "y": {"field": "z", "type": "quantitative", "scale": {"domain": [-5, 0.48], "nice": false, "zero": false}, "axis": {"orient": "left", "values": [0, -2, -4], "title": "Z / Å", "titlePadding": 8}}}},
{"data": {"name": "c"}, "mark": {"type": "point", "shape": "square", "filled": true, "color": "black", "size": 72, "opacity": 1},
 "encoding": {
  "x": {"field": "f", "type": "quantitative", "scale": {"domain": [-45, 549], "nice": false, "zero": false}},
  "y": {"field": "z", "type": "quantitative", "scale": {"domain": [-5, 0.48], "nice": false, "zero": false}, "axis": {"orient": "left", "values": [-1, -3, -5], "title": null}}}},
{"data": {"values": [{}]}, "mark": {"type": "rule", "stroke": "black", "strokeWidth": 1.5, "strokeDash": [7, 5]},
 "encoding": {"y": {"datum": 0, "type": "quantitative", "scale": {"domain": [-5, 0.48], "nice": false, "zero": false}, "axis": null}}}
],
"resolve": {"scale": {"y": "independent"}, "axis": {"y": "independent"}}
},
{
"width": 246, "height": 183,
"title": {"text": "d", "dx": -71, "offset": -34, "fontSize": 34},
"data": {"name": "d"},
"layer": [
{"mark": {"type": "line", "strokeWidth": 1.5},
 "encoding": {
  "x": {"field": "f", "type": "quantitative", "scale": {"domain": [-48, 551], "nice": false, "zero": false}, "axis": {"values": [0, 100, 200, 300, 400, 500], "title": "Fₙ / nN", "titlePadding": 2}},
  "y": {"field": "r", "type": "quantitative", "scale": {"domain": [-0.892, 1.0], "nice": false, "zero": false}, "axis": {"values": [-0.5, 0, 0.5, 1], "format": ".0%", "title": ["fd", "—", "f"], "titleFontStyle": "italic", "titleFontSize": 19, "titleLineHeight": 10, "titleAngle": -90, "titleX": -64, "titleY": 87, "titleAlign": "center", "titleBaseline": "middle"}},
  "color": {"field": "k", "type": "nominal", "scale": {"domain": ["Reaction force", "Spring force"], "range": ["#3f3f3f", "#f03b3b"]},
   "legend": {"orient": "none", "legendX": 12, "legendY": 1, "title": null, "symbolSize": 256, "symbolStrokeWidth": 1.5, "padding": 4, "rowPadding": 2, "labelOffset": 21,
    "encode": {"symbols": {"update": {
      "shape": {"signal": "datum.value === 'Reaction force' ? 'M-1,0H3.25M0.825,-0.3H1.425V0.3H0.825Z' : 'M-1,0H3.25M1.455,0A0.33,0.33,0,1,1,0.795,0A0.33,0.33,0,1,1,1.455,0Z'"},
      "fill": {"signal": "datum.value === 'Reaction force' ? '#3f3f3f' : '#f03b3b'"},
      "stroke": {"signal": "datum.value === 'Reaction force' ? '#3f3f3f' : '#f03b3b'"}}}}}}
 }},
{"transform": [{"filter": "datum.k === 'Reaction force'"}], "mark": {"type": "point", "shape": "square", "filled": true, "size": 45, "opacity": 1},
 "encoding": {
  "x": {"field": "f", "type": "quantitative", "scale": {"domain": [-48, 551], "nice": false, "zero": false}},
  "y": {"field": "r", "type": "quantitative", "scale": {"domain": [-0.892, 1.0], "nice": false, "zero": false}},
  "color": {"field": "k", "type": "nominal", "scale": {"domain": ["Reaction force", "Spring force"], "range": ["#3f3f3f", "#f03b3b"]},
   "legend": {"orient": "none", "legendX": 12, "legendY": 1, "title": null, "symbolSize": 256, "symbolStrokeWidth": 1.5, "padding": 4, "rowPadding": 2, "labelOffset": 21,
    "encode": {"symbols": {"update": {
      "shape": {"signal": "datum.value === 'Reaction force' ? 'M-1,0H3.25M0.825,-0.3H1.425V0.3H0.825Z' : 'M-1,0H3.25M1.455,0A0.33,0.33,0,1,1,0.795,0A0.33,0.33,0,1,1,1.455,0Z'"},
      "fill": {"signal": "datum.value === 'Reaction force' ? '#3f3f3f' : '#f03b3b'"},
      "stroke": {"signal": "datum.value === 'Reaction force' ? '#3f3f3f' : '#f03b3b'"}}}}}}
 }},
{"transform": [{"filter": "datum.k === 'Spring force'"}], "mark": {"type": "point", "shape": "circle", "filled": true, "size": 50, "opacity": 1},
 "encoding": {
  "x": {"field": "f", "type": "quantitative", "scale": {"domain": [-48, 551], "nice": false, "zero": false}},
  "y": {"field": "r", "type": "quantitative", "scale": {"domain": [-0.892, 1.0], "nice": false, "zero": false}},
  "color": {"field": "k", "type": "nominal", "scale": {"domain": ["Reaction force", "Spring force"], "range": ["#3f3f3f", "#f03b3b"]},
   "legend": {"orient": "none", "legendX": 12, "legendY": 1, "title": null, "symbolSize": 256, "symbolStrokeWidth": 1.5, "padding": 4, "rowPadding": 2, "labelOffset": 21,
    "encode": {"symbols": {"update": {
      "shape": {"signal": "datum.value === 'Reaction force' ? 'M-1,0H3.25M0.825,-0.3H1.425V0.3H0.825Z' : 'M-1,0H3.25M1.455,0A0.33,0.33,0,1,1,0.795,0A0.33,0.33,0,1,1,1.455,0Z'"},
      "fill": {"signal": "datum.value === 'Reaction force' ? '#3f3f3f' : '#f03b3b'"},
      "stroke": {"signal": "datum.value === 'Reaction force' ? '#3f3f3f' : '#f03b3b'"}}}}}}
 }}
]
}
]
}
